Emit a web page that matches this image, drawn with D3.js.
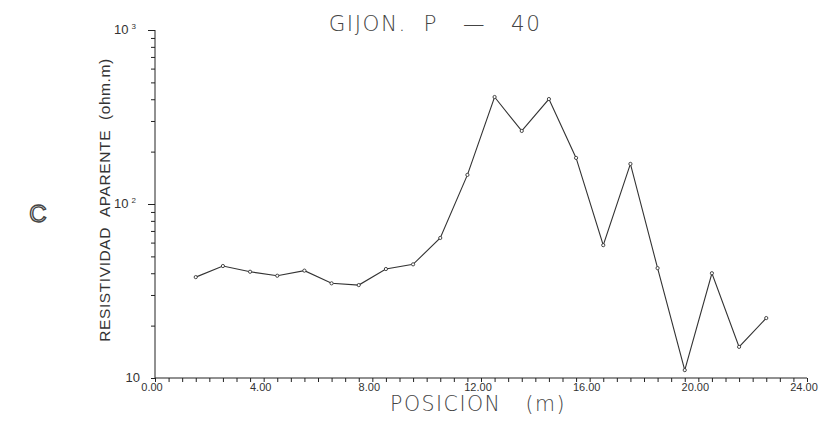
<!DOCTYPE html>
<html>
<head>
<meta charset="utf-8">
<script src="https://cdn.jsdelivr.net/npm/d3@7"></script>
<style>
body { margin: 0; background: #fff; }
svg { display: block; }
</style>
</head>
<body>
<svg class="chart"></svg>
<script>
// posicion (m) y resistividad aparente (ohm.m)
var posicion = [1.5, 2.5, 3.5, 4.5, 5.5, 6.5, 7.5, 8.5, 9.5, 10.5, 11.5,
    12.5, 13.5, 14.5, 15.5, 16.5, 17.5, 18.5, 19.5, 20.5, 21.5, 22.5];
var resistividad = [38, 44, 40.8, 38.7, 41.4, 35, 34.2, 42.3, 45, 63.8, 147,
    412, 263, 401, 184, 58, 170, 42.8, 11.1, 40, 15.1, 22.1];
var xTicks = [0, 4, 8, 12, 16, 20, 24];
var yTicks = [10, 100, 1000];
var titulo = 'GIJON.\u00a0\u00a0P\u00a0\u00a0\u00a0\u2014\u00a0\u00a0\u00a040';
var ejeX = 'POSICION\u00a0\u00a0\u00a0(m)';
var ejeY = 'RESISTIVIDAD\u00a0\u00a0APARENTE\u00a0\u00a0(ohm.m)';

var W = 831, H = 426;
var chart = d3.select('.chart').attr('width', W).attr('height', H);

var x = d3.scaleLinear().domain([0, 24]).range([155, 807]);
var y = d3.scaleLog().domain([10, 1000]).range([378, 30]);
var ink = '#222';

// eje x: marcas cada 0.5 hacia abajo
var xAxis = d3.axisBottom(x)
    .tickValues(d3.range(0, 24.01, 0.5))
    .tickSize(4).tickFormat('');
var gx = chart.append('g').attr('transform', 'translate(0,378)').call(xAxis);
gx.select('.domain').attr('stroke', ink).attr('d', 'M155,0H807');
gx.selectAll('line').attr('stroke', ink);

chart.append('g').selectAll('text').data(xTicks).enter().append('text')
    .attr('x', function (d) { return x(d) - 3; })
    .attr('y', 391)
    .attr('text-anchor', 'middle')
    .attr('font-family', 'Liberation Sans, sans-serif')
    .attr('font-size', 11)
    .attr('fill', '#333')
    .text(function (d) { return d.toFixed(2); });

// eje y logaritmico, marcas menores hacia la izquierda
var yMinor = [];
[10, 100].forEach(function (b) {
    for (var k = 1; k <= 9; k++) yMinor.push(b * k);
});
yMinor.push(1000);
var yAxis = d3.axisLeft(y).tickValues(yMinor).tickSize(4).tickFormat('');
var gy = chart.append('g').attr('transform', 'translate(155,0)').call(yAxis);
gy.select('.domain').attr('stroke', ink).attr('d', 'M0,30V378');
gy.selectAll('line').attr('stroke', ink)
    .attr('x2', function (d) { return (d === 100 || d === 1000) ? -7 : -4; });

var yl = chart.append('g').selectAll('text').data(yTicks).enter().append('text')
    .attr('x', function (d) { return d === 10 ? 140 : 136; })
    .attr('y', function (d) { return y(d) + 4; })
    .attr('text-anchor', 'end')
    .attr('font-family', 'Liberation Sans, sans-serif')
    .attr('font-size', 13)
    .attr('fill', '#333');
yl.append('tspan').text('10');
yl.filter(function (d) { return d > 10; }).append('tspan')
    .attr('dx', 3).attr('dy', -5).attr('font-size', 8)
    .text(function (d) { return d === 1000 ? '3' : '2'; });

// curva
var pts = posicion.map(function (p, i) { return [p, resistividad[i]]; });
var line = d3.line()
    .x(function (d) { return x(d[0]); })
    .y(function (d) { return y(d[1]); });
chart.append('path').datum(pts)
    .attr('d', line)
    .attr('fill', 'none')
    .attr('stroke', '#333')
    .attr('stroke-width', 1.1);
chart.append('g').selectAll('circle').data(pts).enter().append('circle')
    .attr('cx', function (d) { return x(d[0]); })
    .attr('cy', function (d) { return y(d[1]); })
    .attr('r', 1.6)
    .attr('fill', '#fff')
    .attr('stroke', '#333')
    .attr('stroke-width', 0.9);

// textos
chart.append('text')
    .attr('x', 435).attr('y', 31)
    .attr('text-anchor', 'middle')
    .attr('font-family', 'DejaVu Sans, sans-serif')
    .attr('font-weight', 200)
    .attr('font-size', 21.5)
    .attr('letter-spacing', 1.5)
    .attr('fill', '#444')
    .text(titulo);

chart.append('text')
    .attr('x', 478).attr('y', 411)
    .attr('text-anchor', 'middle')
    .attr('font-family', 'DejaVu Sans, sans-serif')
    .attr('font-weight', 200)
    .attr('font-size', 20.5)
    .attr('letter-spacing', 1.5)
    .attr('fill', '#444')
    .text(ejeX);

chart.append('text')
    .attr('transform', 'translate(110,200) rotate(-90)')
    .attr('text-anchor', 'middle')
    .attr('font-family', 'Liberation Sans, sans-serif')
    .attr('font-size', 15.5)
    .attr('letter-spacing', 0.6)
    .attr('fill', '#333')
    .text(ejeY);

chart.append('text')
    .attr('x', 38).attr('y', 222)
    .attr('text-anchor', 'middle')
    .attr('font-family', 'Liberation Sans, sans-serif')
    .attr('font-size', 24)
    .attr('fill', '#fff')
    .attr('stroke', '#444')
    .attr('stroke-width', 1.4)
    .text('C');
</script>
</body>
</html>
